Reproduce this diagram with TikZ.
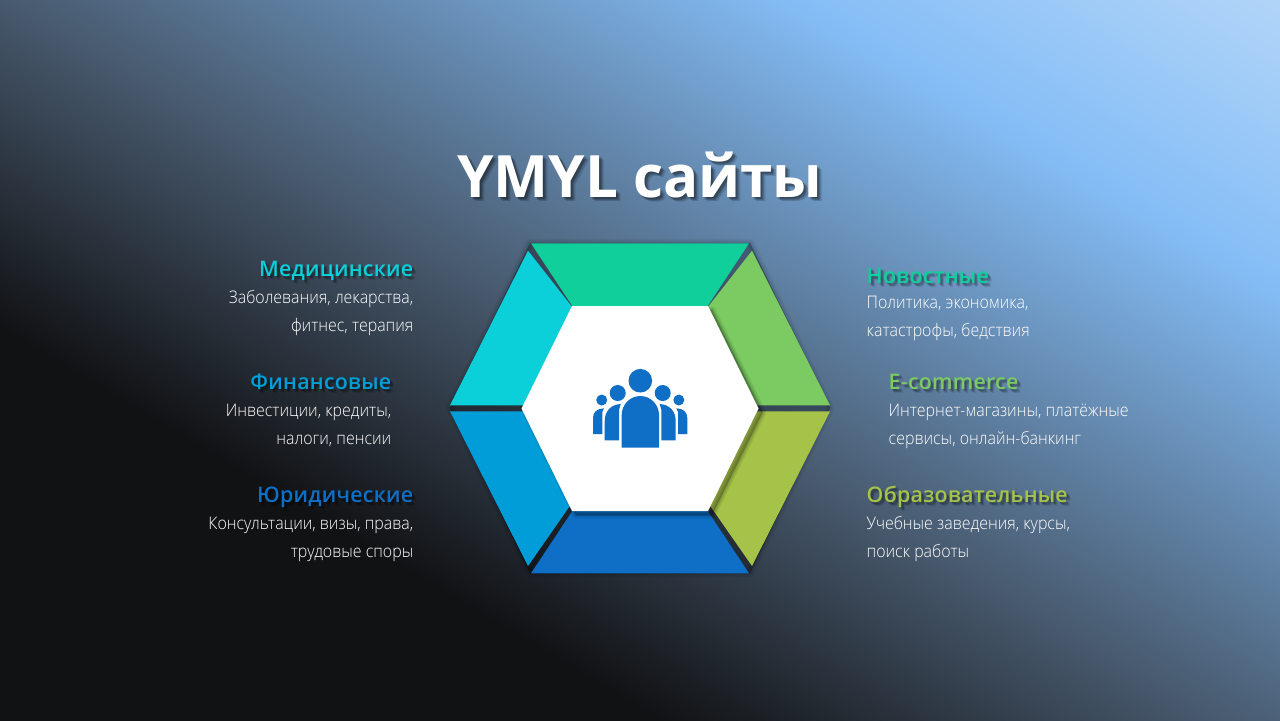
\documentclass[tikz,border=0pt]{standalone}
\usepackage{fontspec}
\usepackage{tikz}
\usetikzlibrary{positioning}

\setmainfont{Open Sans}
\newfontfamily\titlefont{Open Sans}
\newfontfamily\headfont[LetterSpace=1]{Open Sans Semibold}
\newfontfamily\bodyfont[FakeStretch=0.92]{Open Sans Light}

\definecolor{bgdark}{HTML}{111214}
\definecolor{bgmid}{HTML}{47596D}
\definecolor{bgsky}{HTML}{84BDF6}
\definecolor{bglight}{HTML}{B0D4F8}
\definecolor{segteal}{HTML}{10CF9B}
\definecolor{seggreen}{HTML}{7CCA62}
\definecolor{segolive}{HTML}{A5C249}
\definecolor{segblue}{HTML}{0F6FC6}
\definecolor{segazure}{HTML}{009DD9}
\definecolor{segcyan}{HTML}{0BD0D9}

\pgfdeclareverticalshading{ymylbg}{100bp}{color(0bp)=(bgdark); color(40bp)=(bgdark); color(49.4bp)=(bgmid); color(63bp)=(bgsky); color(71bp)=(bglight); color(100bp)=(bglight)}

% label with a soft shadow behind it
\newcommand{\shadowlabel}[5]{
    \foreach \dx/\dy in {1/1,2/2,3/2,2/3,3/3,4/4} {
        \node[heading, anchor=#2, text=black, opacity=0.09, xshift=\dx*0.01cm, yshift=-\dy*0.01cm] (#1s\dx\dy) at (#3) {#5};
    }
    \node[heading, anchor=#2, text=#4] (#1) at (#3) {#5};
}

\begin{document}
\begin{tikzpicture}[
    x=0.01cm, y=-0.01cm,
    heading/.style={inner sep=0pt, text height=5pt, text depth=0pt, font=\headfont\fontsize{6.1}{8}\selectfont},
    bodytext/.style={inner sep=0pt, text=white, font=\bodyfont\fontsize{4.93}{7.97}\selectfont},
    titletext/.style={inner sep=0pt, anchor=base, font=\titlefont\bfseries\fontsize{16.6}{20}\selectfont},
    segment/.style={draw=none}
]
\useasboundingbox (0,0) rectangle (1280,720);

% --- Background ---
\begin{scope}
\clip (0,0) rectangle (1280,720);
\shade[shading=ymylbg, shading angle=-30.7] (-110,-390) rectangle (1390,1110);
\end{scope}

% --- Title ---
\foreach \dx/\dy in {1/1,2/2,3/2,2/3,3/3,4/4,5/4} {
    \node[titletext, text=black, opacity=0.09, xshift=\dx*0.01cm, yshift=-\dy*0.01cm] (titles\dx\dy) at (640,197) {YMYL сайты};
}
\node[titletext, text=white] (title) at (640,197) {YMYL сайты};

% --- Hexagon shadow ---
\fill[black, opacity=0.16] (530,243) -- (750,243) -- (830,408) -- (750,573) -- (530,573) -- (450,408) -- cycle;
\foreach \w in {0.6,1.4,2.4} {
    \fill[black, draw=black, opacity=0.05, line width=\w pt, line join=round] (530,243) -- (750,243) -- (830,408) -- (750,573) -- (530,573) -- (450,408) -- cycle;
}

% --- Segments ---
\fill[segment, segteal] (531,243.3) -- (749,243.3) -- (707.7,306) -- (572.3,306) -- cycle;
\fill[segment, seggreen] (752,250.7) -- (830,405.3) -- (754,405.3) -- (706,309.3) -- cycle;
\fill[segment, segolive] (830,411.3) -- (754,411.3) -- (706,506.7) -- (710.7,506.7) -- (752,566) -- cycle;
\fill[segment, segblue] (572.3,511) -- (707.7,511) -- (749,573.3) -- (531,573.3) -- cycle;
\fill[segment, segazure] (450,411.3) -- (526,411.3) -- (574,506.7) -- (569.3,506.7) -- (528,566) -- cycle;
\fill[segment, segcyan] (528,250.7) -- (450,405.3) -- (526,405.3) -- (574,309.3) -- cycle;

% --- Centre ---
\foreach \w in {0.5,1.2,2} {
    \fill[black, draw=black, opacity=0.08, line width=\w pt, line join=round, xshift=0.04cm, yshift=-0.04cm] (572,306) -- (708,306) -- (758.5,408.5) -- (708,511) -- (572,511) -- (521.5,408.5) -- cycle;
}
\fill[white] (572,306) -- (708,306) -- (758.5,408.5) -- (708,511) -- (572,511) -- (521.5,408.5) -- cycle;

% --- People icon ---
\fill[segblue] (640.3,380.7) circle (11.8);
\fill[segblue] (617.7,393) circle (8);
\fill[segblue] (662.7,393) circle (8);
\fill[segblue] (601.7,400) circle (5.5);
\fill[segblue] (678.8,400) circle (5.5);
\fill[segblue] (621.7,447.7) -- (621.7,415) .. controls (621.7,404.5) and (630,396) .. (640.3,396) .. controls (650.6,396) and (659,404.5) .. (659,415) -- (659,447.7) -- cycle;
\fill[segblue] (604.7,440.3) -- (604.7,421) .. controls (604.7,411) and (611,404.5) .. (620.7,404) -- (619,410) -- (619,440.3) -- cycle;
\fill[segblue] (675.7,440.3) -- (675.7,421) .. controls (675.7,411) and (669.4,404.5) .. (659.7,404) -- (661.4,410) -- (661.4,440.3) -- cycle;
\fill[segblue] (593,434) -- (593,418) .. controls (593,412) and (597,408.5) .. (604,408.3) -- (602.3,412) -- (602.3,434) -- cycle;
\fill[segblue] (687.3,434) -- (687.3,418) .. controls (687.3,412) and (683.3,408.5) .. (676.3,408.3) -- (678,412) -- (678,434) -- cycle;

% --- Left labels ---
\shadowlabel{medical}{base east}{414,276.7}{segcyan}{Медицинские}
\node[bodytext, align=right, below=0.125cm of medical.south east, anchor=north east] (medicaltext) {Заболевания, лекарства,\\фитнес, терапия};

\shadowlabel{finance}{base east}{392,389}{segazure}{Финансовые}
\node[bodytext, align=right, below=0.135cm of finance.south east, anchor=north east] (financetext) {Инвестиции, кредиты,\\налоги, пенсии};

\shadowlabel{legal}{base east}{414,502.7}{segblue}{Юридические}
\node[bodytext, align=right, below=0.125cm of legal.south east, anchor=north east] (legaltext) {Консультации, визы, права,\\трудовые споры};

% --- Right labels ---
\shadowlabel{news}{base west}{866,283}{segteal}{Новостные}
\node[bodytext, align=left, below=0.115cm of news.south west, anchor=north west] (newstext) {Политика, экономика,\\катастрофы, бедствия};

\shadowlabel{shop}{base west}{888,389}{seggreen}{E-commerce}
\node[bodytext, align=left, below=0.135cm of shop.south west, anchor=north west] (shoptext) {Интернет-магазины, платёжные\\сервисы, онлайн-банкинг};

\shadowlabel{edu}{base west}{866,502.7}{segolive}{Образовательные}
\node[bodytext, align=left, below=0.125cm of edu.south west, anchor=north west] (edutext) {Учебные заведения, курсы,\\поиск работы};

\end{tikzpicture}
\end{document}
